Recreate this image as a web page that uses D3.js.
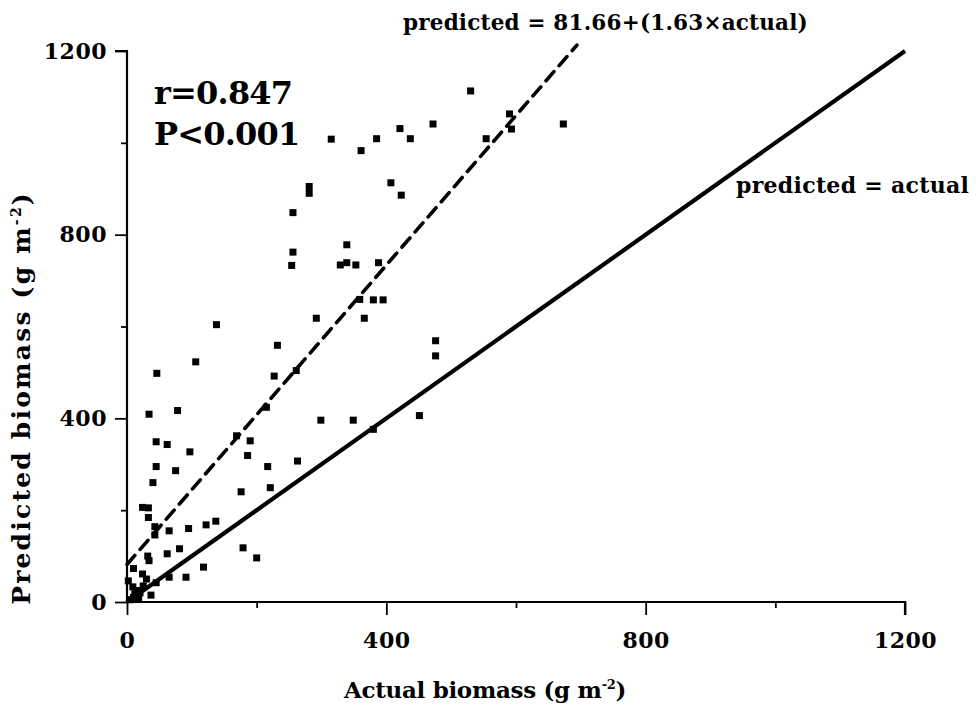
<!DOCTYPE html>
<html>
<head>
<meta charset="utf-8">
<script src="https://cdn.jsdelivr.net/npm/d3@7"></script>
<style>
  html, body { margin: 0; padding: 0; background: #fff; }
  svg { display: block; }
  text { font-family: "DejaVu Serif", "Liberation Serif", serif; fill: #000; }
</style>
</head>
<body>
<svg id="chart" width="978" height="707"></svg>
<script>
// ---- data ----
const actual = [530, 590, 593, 673, 554, 472, 437, 421, 385, 361, 315, 281, 281, 256, 407, 423, 256,
  339, 254, 329, 339, 353, 388, 359, 380, 395, 292, 366, 476, 476, 232, 138, 227, 261, 106, 46,
  215, 299, 349, 380, 451, 34, 78, 45, 62, 97, 169, 190, 186, 45, 75, 40, 217, 263, 176, 221,
  24, 33, 33, 43, 43, 65, 95, 122, 137, 81, 62, 179, 200, 32, 34, 118, 91, 65, 45, 10, 24, 2,
  9, 20, 37, 10, 15, 5, 25, 12, 30, 18];
const predicted = [1113, 1063, 1030, 1041, 1009, 1041, 1009, 1031, 1009, 983, 1008, 905, 890, 848, 913, 886, 762,
  778, 733, 734, 739, 734, 739, 659, 658, 658, 618, 618, 569, 536, 559, 604, 492, 504, 523, 498,
  424, 396, 396, 376, 406, 409, 417, 349, 343, 327, 362, 351, 319, 295, 286, 260, 295, 307, 240, 249,
  206, 205, 184, 164, 146, 155, 160, 168, 176, 116, 105, 118, 96, 100, 90, 76, 54, 54, 42, 73, 61, 46,
  33, 20, 15, 10, 25, 5, 35, 18, 50, 8];
const majorTicks = [0, 400, 800, 1200];
const minorTicks = [200, 600, 1000];
const fitIntercept = 81.66;
const fitSlope = 1.63;
const fitMaxActual = 694;
const statsLines = ["r=0.847", "P<0.001"];
const fitLabel = "predicted = 81.66+(1.63\u00D7actual)";
const identityLabel = "predicted = actual";

// ---- layout ----
const svg = d3.select("#chart");
const x = d3.scaleLinear().domain([0, 1200]).range([127, 905]);
const y = d3.scaleLinear().domain([0, 1200]).range([602, 51]);

// axes
const tickFont = "bold 22px 'DejaVu Serif', serif";
const xAxis = svg.append("g").attr("transform", `translate(0,${y(0)})`)
  .call(d3.axisBottom(x).tickValues(majorTicks).tickSize(13).tickPadding(17).tickFormat(d3.format("d")));
const xMinor = svg.append("g").attr("transform", `translate(0,${y(0)})`)
  .call(d3.axisBottom(x).tickValues(minorTicks).tickSize(6).tickFormat(""));
const yAxis = svg.append("g").attr("transform", `translate(${x(0)},0)`)
  .call(d3.axisLeft(y).tickValues(majorTicks).tickSize(12).tickPadding(8).tickFormat(d3.format("d")));
const yMinor = svg.append("g").attr("transform", `translate(${x(0)},0)`)
  .call(d3.axisLeft(y).tickValues(minorTicks).tickSize(6).tickFormat(""));

[xAxis, xMinor, yAxis, yMinor].forEach(g => {
  g.select(".domain").attr("stroke", "#000").attr("stroke-width", 2.2);
  g.selectAll(".tick line").attr("stroke", "#000").attr("stroke-width", 1.8);
  g.selectAll(".tick text").style("font", tickFont).style("letter-spacing", "0.5px").attr("fill", "#000");
});
xAxis.select(".domain").attr("d", `M${x(0)},0H${x(1200)}V13`);
xMinor.select(".domain").remove();
yAxis.select(".domain").attr("d", `M-12,${y(1200)}H0V${y(0)}`);
yMinor.select(".domain").remove();

// identity line
svg.append("line")
  .attr("x1", x(0)).attr("y1", y(0)).attr("x2", x(1200)).attr("y2", y(1200))
  .attr("stroke", "#000").attr("stroke-width", 4.2);

// regression line (dashed)
svg.append("line")
  .attr("x1", x(0)).attr("y1", y(fitIntercept))
  .attr("x2", x(fitMaxActual)).attr("y2", y(fitIntercept + fitSlope * fitMaxActual))
  .attr("stroke", "#000").attr("stroke-width", 3.6)
  .attr("stroke-dasharray", "12,8").attr("stroke-linecap", "round");

// points
const pts = actual.map((a, i) => ({ a, p: predicted[i] }));
const s = 7;
svg.append("g").selectAll("rect").data(pts).enter().append("rect")
  .attr("x", d => x(d.a) - s / 2).attr("y", d => y(d.p) - s / 2)
  .attr("width", s).attr("height", s).attr("fill", "#000");

// stats text
svg.append("text").attr("x", 154).attr("y", 104)
  .style("font", "bold 32px 'DejaVu Serif', serif").style("letter-spacing", "-0.8px").text(statsLines[0]);
svg.append("text").attr("x", 154).attr("y", 145)
  .style("font", "bold 32px 'DejaVu Serif', serif").style("letter-spacing", "-0.8px").text(statsLines[1]);

// line labels
svg.append("text").attr("x", 403).attr("y", 30)
  .style("font", "bold 21.5px 'DejaVu Serif', serif").style("letter-spacing", "0.2px").text(fitLabel);
svg.append("text").attr("x", 736).attr("y", 193)
  .style("font", "bold 22px 'DejaVu Serif', serif").style("letter-spacing", "0.3px").text(identityLabel);

// axis titles
const xt = svg.append("text").attr("x", 485).attr("y", 698).attr("text-anchor", "middle")
  .style("font", "bold 23px 'DejaVu Serif', serif").style("letter-spacing", "-0.3px");
xt.append("tspan").text("Actual biomass (g m");
xt.append("tspan").attr("dy", -9).style("font-size", "13px").text("-2");
xt.append("tspan").attr("dy", 9).text(")");

const yt = svg.append("text").attr("transform", "translate(30,398) rotate(-90)").attr("text-anchor", "middle")
  .style("font", "bold 25px 'DejaVu Serif', serif").style("letter-spacing", "2.2px");
yt.append("tspan").text("Predicted biomass (g m");
yt.append("tspan").attr("dy", -9).style("font-size", "14px").text("-2");
yt.append("tspan").attr("dy", 9).text(")");
</script>
</body>
</html>
